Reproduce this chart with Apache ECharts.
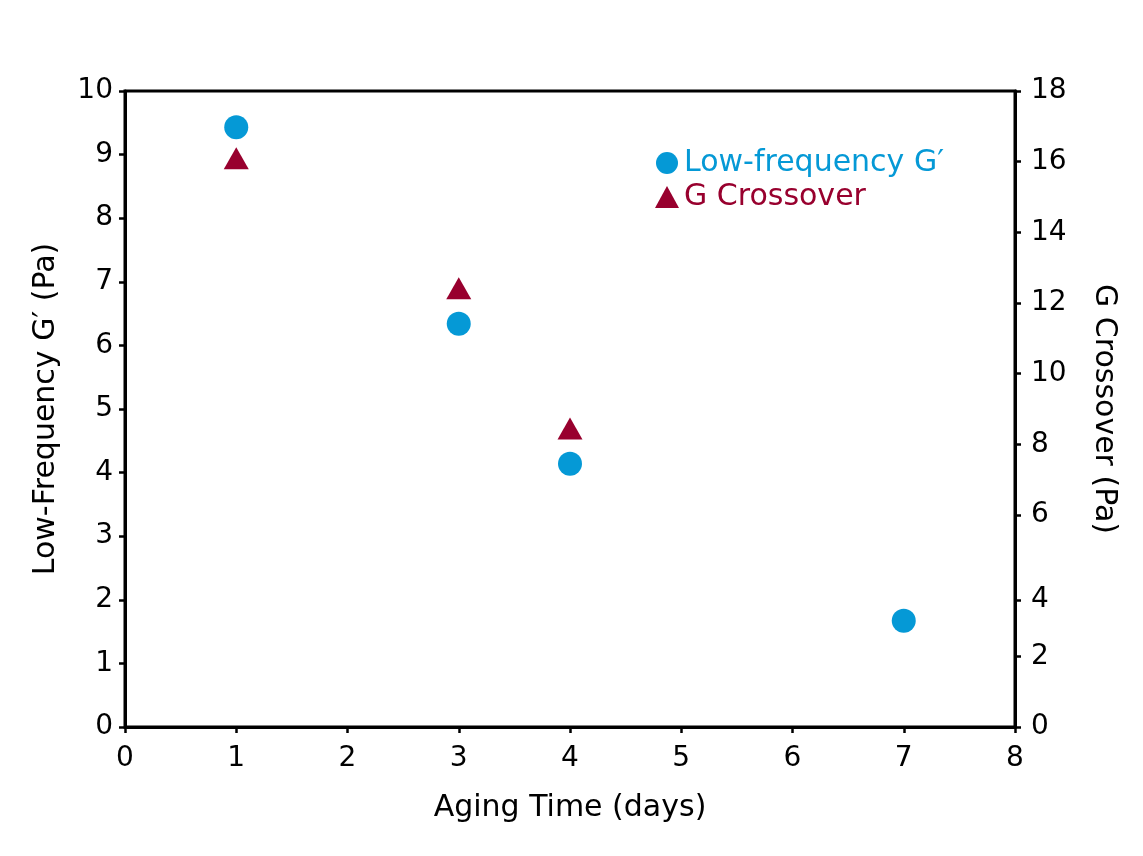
<!DOCTYPE html>
<html>
<head>
<meta charset="utf-8">
<script src="https://cdn.jsdelivr.net/npm/echarts@6/dist/echarts.min.js"></script>
<style>
html,body{margin:0;padding:0;background:#fff;}
#c{width:1143px;height:856px;}
</style>
</head>
<body>
<div id="c"></div>
<script>
// Aging time (days)
var gPrimeDays = [1, 3, 4, 7];
var gPrimeValues = [9.43, 6.34, 4.14, 1.67];        // Low-frequency G' (Pa), left axis
var crossoverDays = [1, 3, 4];
var crossoverValues = [16.1, 12.42, 8.45];          // G Crossover (Pa), right axis
// right-axis tick labels and where they sit on the axis (as drawn in the source figure)
var rightTickLabels = ['0', '2', '4', '6', '8', '10', '12', '14', '16', '18'];
var rightTickValues = [0, 2, 3.6, 6, 8, 10, 12, 14, 16, 18];

var BLUE = '#0599d6';
var RED = '#98002e';
var FONT = 'DejaVu Sans';

function pairs(xs, ys) { return xs.map(function (x, i) { return [x, ys[i]]; }); }

var chart = echarts.init(document.getElementById('c'), null, { renderer: 'canvas' });
var axisLine = { show: true, lineStyle: { color: '#000', width: 3 } };
var axisTick = { show: true, inside: false, length: 6, lineStyle: { color: '#000', width: 2.5 } };
var labelStyle = { color: '#000', fontFamily: FONT, fontSize: 28 };
var nameStyle = { color: '#000', fontFamily: FONT, fontSize: 30 };

chart.setOption({
  animation: false,
  backgroundColor: '#fff',
  textStyle: { fontFamily: FONT },
  grid: {
    left: 125, right: 128, top: 91, bottom: 129,
    show: true, borderColor: '#000', borderWidth: 3, backgroundColor: 'transparent'
  },
  legend: {
    orient: 'vertical',
    left: 650, top: 143,
    itemWidth: 24, itemHeight: 22, itemGap: 4,
    textStyle: { fontFamily: FONT, fontSize: 30 },
    data: [
      { name: 'Low-frequency G\u2032', icon: 'circle', textStyle: { color: BLUE } },
      { name: 'G Crossover', icon: 'triangle', textStyle: { color: RED } }
    ]
  },
  xAxis: {
    type: 'value', min: 0, max: 8, interval: 1,
    name: 'Aging Time (days)', nameLocation: 'middle', nameGap: 66,
    nameTextStyle: nameStyle,
    axisLine: axisLine, axisTick: axisTick,
    axisLabel: Object.assign({ margin: 18 }, labelStyle),
    splitLine: { show: false }
  },
  yAxis: [
    {
      type: 'value', min: 0, max: 10, interval: 1, position: 'left',
      name: 'Low-Frequency G\u2032 (Pa)', nameLocation: 'middle', nameGap: 64,
      nameTextStyle: nameStyle,
      axisLine: axisLine, axisTick: axisTick,
      axisLabel: Object.assign({ margin: 12 }, labelStyle),
      splitLine: { show: false }
    },
    {
      type: 'value', min: 0, max: 18, position: 'right',
      name: 'G Crossover (Pa)', nameLocation: 'middle', nameGap: 74, nameRotate: -90,
      nameTextStyle: nameStyle,
      axisLine: axisLine,
      axisTick: Object.assign({ customValues: rightTickValues }, axisTick),
      axisLabel: Object.assign({
        margin: 16,
        customValues: rightTickValues,
        formatter: function (v) {
          var i = rightTickValues.indexOf(v);
          return i >= 0 ? rightTickLabels[i] : '';
        }
      }, labelStyle),
      splitLine: { show: false }
    }
  ],
  series: [
    {
      name: 'Low-frequency G\u2032', type: 'scatter', yAxisIndex: 0,
      symbol: 'circle', symbolSize: 24,
      itemStyle: { color: BLUE, opacity: 1 },
      data: pairs(gPrimeDays, gPrimeValues)
    },
    {
      name: 'G Crossover', type: 'scatter', yAxisIndex: 1,
      symbol: 'triangle', symbolSize: [25, 22],
      itemStyle: { color: RED, opacity: 1 },
      data: pairs(crossoverDays, crossoverValues)
    }
  ]
});
</script>
</body>
</html>
